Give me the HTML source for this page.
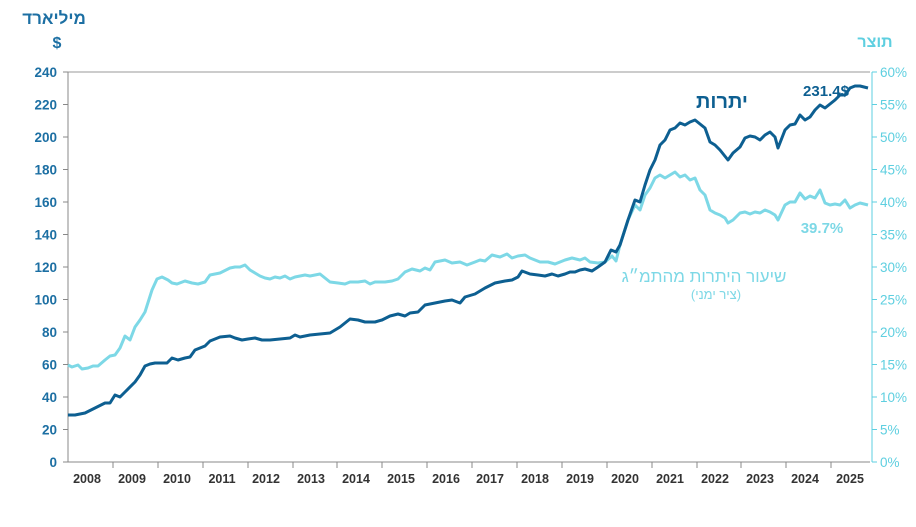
<!DOCTYPE html>
<html><head><meta charset="utf-8"><style>
body{margin:0;background:#fff;}
svg{display:block;font-family:"Liberation Sans",Arial,"Noto Sans CJK SC",sans-serif;}
</style></head><body>
<svg width="916" height="527" viewBox="0 0 916 527">
<text x="54" y="24" font-size="17" font-weight="bold" fill="#1c6fa3" text-anchor="middle" font-family="Liberation Sans, DejaVu Sans, sans-serif">מיליארד</text>
<text x="57" y="48" font-size="16" font-weight="bold" fill="#1c6fa3" text-anchor="middle">$</text>
<text x="875" y="47" font-size="16" font-weight="bold" fill="#5ecfe0" text-anchor="middle" font-family="Liberation Sans, DejaVu Sans, sans-serif">תוצר</text>
<line x1="68" y1="72" x2="870" y2="72" stroke="#999" stroke-width="1"/>
<line x1="68" y1="72" x2="68" y2="462" stroke="#888" stroke-width="1"/>
<line x1="68" y1="462" x2="870" y2="462" stroke="#888" stroke-width="1"/>
<line x1="872" y1="72" x2="872" y2="462" stroke="#5ecfe0" stroke-width="1"/>
<g font-size="13.5" font-weight="bold" fill="#1c6fa3" text-anchor="end">
<text x="57" y="77">240</text><text x="57" y="109.5">220</text><text x="57" y="142">200</text><text x="57" y="174.5">180</text><text x="57" y="207">160</text><text x="57" y="239.5">140</text><text x="57" y="272">120</text><text x="57" y="304.5">100</text><text x="57" y="337">80</text><text x="57" y="369.5">60</text><text x="57" y="402">40</text><text x="57" y="434.5">20</text><text x="57" y="467">0</text>
</g>
<g stroke="#888"><line x1="63" y1="72" x2="68" y2="72"/><line x1="63" y1="104.5" x2="68" y2="104.5"/><line x1="63" y1="137" x2="68" y2="137"/><line x1="63" y1="169.5" x2="68" y2="169.5"/><line x1="63" y1="202" x2="68" y2="202"/><line x1="63" y1="234.5" x2="68" y2="234.5"/><line x1="63" y1="267" x2="68" y2="267"/><line x1="63" y1="299.5" x2="68" y2="299.5"/><line x1="63" y1="332" x2="68" y2="332"/><line x1="63" y1="364.5" x2="68" y2="364.5"/><line x1="63" y1="397" x2="68" y2="397"/><line x1="63" y1="429.5" x2="68" y2="429.5"/><line x1="63" y1="462" x2="68" y2="462"/></g>
<g font-size="13.5" fill="#5ecfe0" text-anchor="start">
<text x="880" y="77">60%</text><text x="880" y="109.5">55%</text><text x="880" y="142">50%</text><text x="880" y="174.5">45%</text><text x="880" y="207">40%</text><text x="880" y="239.5">35%</text><text x="880" y="272">30%</text><text x="880" y="304.5">25%</text><text x="880" y="337">20%</text><text x="880" y="369.5">15%</text><text x="880" y="402">10%</text><text x="880" y="434.5">5%</text><text x="880" y="467">0%</text>
</g>
<g stroke="#5ecfe0"><line x1="872" y1="72" x2="877" y2="72"/><line x1="872" y1="104.5" x2="877" y2="104.5"/><line x1="872" y1="137" x2="877" y2="137"/><line x1="872" y1="169.5" x2="877" y2="169.5"/><line x1="872" y1="202" x2="877" y2="202"/><line x1="872" y1="234.5" x2="877" y2="234.5"/><line x1="872" y1="267" x2="877" y2="267"/><line x1="872" y1="299.5" x2="877" y2="299.5"/><line x1="872" y1="332" x2="877" y2="332"/><line x1="872" y1="364.5" x2="877" y2="364.5"/><line x1="872" y1="397" x2="877" y2="397"/><line x1="872" y1="429.5" x2="877" y2="429.5"/><line x1="872" y1="462" x2="877" y2="462"/></g>
<g stroke="#888"><line x1="113" y1="462" x2="113" y2="468"/><line x1="158" y1="462" x2="158" y2="468"/><line x1="203" y1="462" x2="203" y2="468"/><line x1="248" y1="462" x2="248" y2="468"/><line x1="293" y1="462" x2="293" y2="468"/><line x1="337" y1="462" x2="337" y2="468"/><line x1="382" y1="462" x2="382" y2="468"/><line x1="427" y1="462" x2="427" y2="468"/><line x1="472" y1="462" x2="472" y2="468"/><line x1="517" y1="462" x2="517" y2="468"/><line x1="562" y1="462" x2="562" y2="468"/><line x1="607" y1="462" x2="607" y2="468"/><line x1="652" y1="462" x2="652" y2="468"/><line x1="697" y1="462" x2="697" y2="468"/><line x1="741" y1="462" x2="741" y2="468"/><line x1="786" y1="462" x2="786" y2="468"/><line x1="831" y1="462" x2="831" y2="468"/></g>
<g font-size="12.5" font-weight="bold" fill="#333" text-anchor="middle">
<text x="87" y="483">2008</text><text x="132" y="483">2009</text><text x="177" y="483">2010</text><text x="222" y="483">2011</text><text x="266" y="483">2012</text><text x="311" y="483">2013</text><text x="356" y="483">2014</text><text x="401" y="483">2015</text><text x="446" y="483">2016</text><text x="490" y="483">2017</text><text x="535" y="483">2018</text><text x="580" y="483">2019</text><text x="625" y="483">2020</text><text x="670" y="483">2021</text><text x="715" y="483">2022</text><text x="760" y="483">2023</text><text x="805" y="483">2024</text><text x="850" y="483">2025</text>
</g>
<polyline fill="none" stroke="#7dd8e6" stroke-width="3" stroke-linejoin="round" points="68,365 72,367 78,365 82,369 88,368 93,366 98,366 105,360 110,356 115,355 120,348 125,336 130,340 135,327 140,320 145,312 152,290 157,279 162,277 168,280 172,283 177,284 185,281 192,283 198,284 205,282 210,275 215,274 220,273 230,268 235,267 240,267 245,265 250,270 255,273 260,276 265,278 270,279 275,277 280,278 285,276 290,279 295,277 300,276 305,275 310,276 315,275 320,274 325,278 330,282 338,283 345,284 350,282 358,282 365,281 370,284 375,282 385,282 392,281 398,279 405,272 412,269 420,271 425,268 430,270 435,262 445,260 452,263 460,262 467,265 475,262 480,260 485,261 492,255 500,257 507,254 512,258 518,256 525,255 530,258 535,260 540,262 548,262 555,264 560,262 565,260 572,258 580,260 585,258 590,262 598,263 605,262 612,256 616,261 620,245 628,220 635,205 640,210 645,195 650,188 655,178 660,175 665,178 670,175 675,172 680,177 685,175 690,180 695,178 700,190 705,195 710,210 715,213 720,215 725,218 728,223 733,220 740,213 745,212 750,214 755,212 760,213 765,210 770,212 775,215 778,220 785,205 790,202 795,202 800,193 805,199 810,196 815,198 820,190 825,203 830,205 835,204 840,205 845,200 850,208 855,205 860,203 868,205"/>
<polyline fill="none" stroke="#0d5f91" stroke-width="3" stroke-linejoin="round" points="68,415 75,415 85,413 95,408 105,403 110,403 115,395 120,397 125,392 135,382 140,375 145,366 150,364 155,363 162,363 167,363 172,358 178,360 185,358 190,357 195,350 200,348 205,346 210,341 215,339 220,337 230,336 235,338 242,340 248,339 255,338 262,340 270,340 280,339 290,338 295,335 300,337 310,335 320,334 330,333 340,327 350,319 358,320 365,322 375,322 382,320 390,316 398,314 405,316 410,313 418,312 425,305 435,303 445,301 452,300 460,303 465,297 475,294 485,288 495,283 505,281 512,280 518,277 522,271 530,274 538,275 545,276 552,274 558,276 565,274 570,272 575,272 580,270 585,269 592,271 598,267 605,262 611,250 616,252 620,245 628,220 635,200 640,202 645,185 650,170 655,160 660,145 665,140 670,130 675,128 680,123 685,125 690,122 695,120 700,124 705,128 710,142 715,145 720,150 728,160 733,153 740,147 745,138 750,136 755,137 760,140 765,135 770,132 775,137 778,148 785,130 790,125 795,124 800,115 805,120 810,117 815,110 820,105 825,108 830,104 835,100 840,95 845,95 850,88 855,86 860,86 868,88"/>
<text x="722" y="108" font-size="20" font-weight="bold" fill="#0d5f91" text-anchor="middle" font-family="Liberation Sans, DejaVu Sans, sans-serif">יתרות</text>
<text x="826" y="96" font-size="15" font-weight="bold" fill="#0d5f91" text-anchor="middle">231.4$</text>
<text x="822" y="233" font-size="15" font-weight="bold" fill="#7dd8e6" text-anchor="middle">39.7%</text>
<text x="704" y="282" font-size="17" fill="#7dd8e6" text-anchor="middle" font-family="Liberation Sans, DejaVu Sans, sans-serif">שיעור היתרות מהתמ״ג</text>
<text x="716" y="299" font-size="13" fill="#7dd8e6" text-anchor="middle" font-family="Liberation Sans, DejaVu Sans, sans-serif">(ציר ימני)</text>
</svg>
</body></html>
